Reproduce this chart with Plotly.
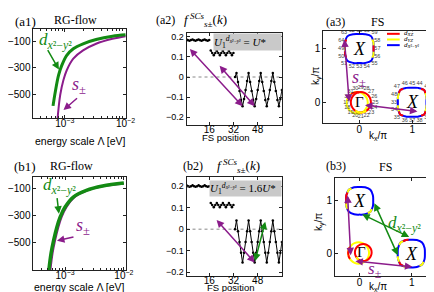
import numpy as np
import plotly.graph_objects as go

W, H = 434, 292
SERIF = "Liberation Serif"
SANS = "Liberation Sans"
GREEN = "#138a13"
PURPLE = "#8b1c8b"
ORB = {"r": "#ff0000", "y": "#ffff00", "b": "#0000ff"}

# ---------------- data: RG flow ----------------
lam_a1_d = [6.4e-4, 6.98e-4, 7.9e-4, 8.95e-4, 1.077e-3, 1.38e-3, 2.0e-3, 3.28e-3, 6.1e-3, 1.0e-2]
V_a1_d = [-587, -480, -356, -281, -207, -157, -120, -88, -63, -53]
lam_a1_s = [7.55e-4, 7.9e-4, 8.4e-4, 9.5e-4, 1.077e-3, 1.38e-3, 2.0e-3, 3.28e-3, 6.1e-3, 1.0e-2]
V_a1_s = [-700, -604, -505, -393, -319, -232, -170, -120, -83, -63]

lam_b1_d = [5.27e-4, 5.77e-4, 6.39e-4, 7.26e-4, 8.26e-4, 1.0e-3, 1.38e-3, 2.3e-3, 4.35e-3, 1.0e-2]
V_b1_d = [-710, -578, -480, -382, -308, -235, -161, -112, -80, -58]
lam_b1_s = [5.6e-4, 6.12e-4, 6.78e-4, 7.7e-4, 8.76e-4, 1.06e-3, 1.46e-3, 2.42e-3, 4.55e-3, 1.0e-2]
V_b1_s = [-710, -578, -480, -382, -308, -235, -161, -112, -80, -62]

# ---------------- data: gap function along FS ----------------
fs_pos = list(range(1, 65))
f_a2 = [0.187, 0.183, 0.181, 0.184, 0.187, 0.183, 0.181, 0.184,
        0.187, 0.183, 0.181, 0.184, 0.187, 0.183, 0.181, 0.184,
        0.132, 0.120, 0.108, 0.120, 0.132, 0.120, 0.108, 0.120,
        0.132, 0.120, 0.108, 0.120, 0.132, 0.120, 0.108, 0.120,
        0.000, 0.020, -0.025, -0.070, -0.115, -0.145, -0.110, -0.065,
        -0.020, 0.020, -0.025, -0.070, -0.115, -0.145, -0.110, -0.065,
        -0.020, 0.020, -0.025, -0.070, -0.115, -0.145, -0.110, -0.065,
        -0.020, 0.020, -0.025, -0.070, -0.115, -0.145, -0.110, -0.065]
f_b2 = [0.204, 0.200, 0.197, 0.200, 0.204, 0.200, 0.197, 0.200,
        0.204, 0.200, 0.197, 0.200, 0.204, 0.200, 0.197, 0.200,
        0.122, 0.112, 0.102, 0.112, 0.122, 0.112, 0.102, 0.112,
        0.122, 0.112, 0.102, 0.112, 0.122, 0.112, 0.102, 0.112,
        0.000, 0.040, -0.010, -0.060, -0.110, -0.155, -0.110, -0.060,
        -0.010, 0.040, -0.010, -0.060, -0.110, -0.155, -0.110, -0.060,
        -0.010, 0.040, -0.010, -0.060, -0.110, -0.155, -0.110, -0.060,
        -0.010, 0.040, -0.010, -0.060, -0.110, -0.155, -0.110, -0.060]
# FS pockets along the position axis (line is broken between pockets)
pocket_ranges = [(1, 16), (17, 32), (33, 64)]

# ---------------- data: Fermi surfaces (kx/pi, ky/pi), orbital per point ----------------
# (a3)
a3_Gy_kx = [-0.24, -0.225, -0.181, -0.117, -0.04, 0.037, 0.101, 0.145, 0.16, 0.145, 0.101, 0.037, -0.04, -0.117, -0.181, -0.225]
a3_Gy_ky = [-0.01, -0.087, -0.151, -0.195, -0.21, -0.195, -0.151, -0.087, -0.01, 0.067, 0.131, 0.175, 0.19, 0.175, 0.131, 0.067]
a3_Gy_orb = ["y", "y", "y", "y", "y", "y", "y", "y", "y", "y", "y", "y", "r", "r", "y", "y"]
a3_Gr_kx = [-0.16, -0.146, -0.104, -0.043, 0.03, 0.103, 0.164, 0.206, 0.22, 0.206, 0.164, 0.103, 0.03, -0.043, -0.104, -0.146]
a3_Gr_ky = [0.0, -0.073, -0.134, -0.176, -0.19, -0.176, -0.134, -0.073, 0.0, 0.073, 0.134, 0.176, 0.19, 0.176, 0.134, 0.073]
a3_Gr_orb = ["r", "r", "r", "y", "y", "y", "r", "r", "r", "r", "r", "r", "r", "r", "r", "r"]
a3_X1_kx = [0.73, 0.732, 0.773, 0.889, 1.0, 1.111, 1.227, 1.268, 1.27, 1.268, 1.227, 1.111, 1.0, 0.889, 0.773, 0.732]
a3_X1_ky = [0.0, -0.111, -0.227, -0.268, -0.27, -0.268, -0.227, -0.111, 0.0, 0.111, 0.227, 0.268, 0.27, 0.268, 0.227, 0.111]
a3_X1_orb = ["b", "y", "r", "b", "b", "b", "r", "y", "b", "y", "r", "b", "b", "b", "r", "y"]
a3_X2_kx = [-0.27, -0.268, -0.227, -0.111, 0.0, 0.111, 0.227, 0.268, 0.27, 0.268, 0.227, 0.111, 0.0, -0.111, -0.227, -0.268]
a3_X2_ky = [1.0, 0.889, 0.773, 0.732, 0.73, 0.732, 0.773, 0.889, 1.0, 1.111, 1.227, 1.268, 1.27, 1.268, 1.227, 1.111]
a3_X2_orb = ["y", "r", "b", "b", "b", "b", "b", "y", "r", "y", "b", "b", "b", "b", "b", "r"]
a3_Gr_pos = list(range(17, 33))
a3_X1_pos = list(range(33, 49))
a3_X2_pos = list(range(49, 65))

# (b3)
b3_Gy_kx = [-0.22, -0.205, -0.161, -0.097, -0.02, 0.057, 0.121, 0.165, 0.18, 0.165, 0.121, 0.057, -0.02, -0.097, -0.161, -0.205]
b3_Gy_ky = [0.01, -0.067, -0.131, -0.175, -0.19, -0.175, -0.131, -0.067, 0.01, 0.087, 0.151, 0.195, 0.21, 0.195, 0.151, 0.087]
b3_Gy_orb = ["r", "r", "y", "y", "y", "y", "y", "y", "y", "y", "y", "y", "y", "y", "y", "r"]
b3_Gr_kx = [-0.09, -0.078, -0.043, 0.009, 0.07, 0.131, 0.183, 0.218, 0.23, 0.218, 0.183, 0.131, 0.07, 0.009, -0.043, -0.078]
b3_Gr_ky = [0.02, -0.041, -0.093, -0.128, -0.14, -0.128, -0.093, -0.041, 0.02, 0.081, 0.133, 0.168, 0.18, 0.168, 0.133, 0.081]
b3_Gr_orb = ["r", "r", "y", "r", "r", "r", "r", "r", "r", "r", "r", "r", "r", "r", "r", "r"]
b3_X1_kx = [0.73, 0.736, 0.784, 0.885, 0.99, 1.095, 1.196, 1.244, 1.25, 1.244, 1.196, 1.095, 0.99, 0.885, 0.784, 0.736]
b3_X1_ky = [0.0, -0.105, -0.206, -0.254, -0.26, -0.254, -0.206, -0.105, 0.0, 0.105, 0.206, 0.254, 0.26, 0.254, 0.206, 0.105]
b3_X1_orb = ["b", "y", "r", "y", "b", "b", "y", "b", "b", "b", "b", "b", "b", "r", "y", "b"]
b3_X2_kx = [-0.26, -0.254, -0.206, -0.105, 0.0, 0.105, 0.206, 0.254, 0.26, 0.254, 0.206, 0.105, 0.0, -0.105, -0.206, -0.254]
b3_X2_ky = [0.99, 0.885, 0.784, 0.736, 0.73, 0.736, 0.784, 0.885, 0.99, 1.095, 1.196, 1.244, 1.25, 1.244, 1.196, 1.095]
b3_X2_orb = ["r", "y", "b", "b", "b", "b", "y", "b", "b", "b", "b", "b", "b", "b", "y", "r"]

fig = go.Figure()


def add_pocket(kx, ky, orb, xa, ya, width=2.0):
    base = max(set(orb), key=orb.count)
    fig.add_trace(go.Scatter(x=kx + [kx[0]], y=ky + [ky[0]], mode="lines",
                             line=dict(color=ORB[base], width=width, shape="spline"),
                             xaxis=xa, yaxis=ya, hoverinfo="skip", showlegend=False))
    n = len(kx)
    segs = {}
    for i, c in enumerate(orb):
        if c == base:
            continue
        p, q = (i - 1) % n, (i + 1) % n
        xs, ys = segs.setdefault(c, ([], []))
        xs += [(kx[p] + kx[i]) / 2, kx[i], (kx[q] + kx[i]) / 2, None]
        ys += [(ky[p] + ky[i]) / 2, ky[i], (ky[q] + ky[i]) / 2, None]
    for c, (xs, ys) in segs.items():
        fig.add_trace(go.Scatter(x=xs, y=ys, mode="lines",
                                 line=dict(color=ORB[c], width=width, shape="spline"),
                                 xaxis=xa, yaxis=ya, hoverinfo="skip", showlegend=False))


def add_labels(kx, ky, pos, xa, ya, f):
    cx, cy = np.mean(kx), np.mean(ky)
    lx = [cx + (x - cx) * f for x in kx]
    ly = [cy + (y - cy) * f for y in ky]
    fig.add_trace(go.Scatter(x=lx, y=ly, mode="text", text=[str(p) for p in pos],
                             textfont=dict(size=5.5, color="#444", family=SANS),
                             xaxis=xa, yaxis=ya, hoverinfo="skip", showlegend=False))


# ---- RG flow traces
fig.add_trace(go.Scatter(x=lam_a1_s, y=V_a1_s, mode="lines", line=dict(color=PURPLE, width=2, shape="spline"),
                         xaxis="x", yaxis="y", showlegend=False))
fig.add_trace(go.Scatter(x=lam_a1_d, y=V_a1_d, mode="lines", line=dict(color=GREEN, width=3, shape="spline"),
                         xaxis="x", yaxis="y", showlegend=False))
fig.add_trace(go.Scatter(x=lam_b1_s, y=V_b1_s, mode="lines", line=dict(color=PURPLE, width=2, shape="spline"),
                         xaxis="x4", yaxis="y4", showlegend=False))
fig.add_trace(go.Scatter(x=lam_b1_d, y=V_b1_d, mode="lines", line=dict(color=GREEN, width=3.5, shape="spline"),
                         xaxis="x4", yaxis="y4", showlegend=False))

# ---- gap function traces (one line piece per FS pocket)
for f_vals, xa, ya in [(f_a2, "x2", "y2"), (f_b2, "x5", "y5")]:
    for lo, hi in pocket_ranges:
        fig.add_trace(go.Scatter(x=fs_pos[lo - 1:hi], y=f_vals[lo - 1:hi], mode="lines+markers",
                                 line=dict(color="black", width=1), marker=dict(size=2.5, color="black"),
                                 xaxis=xa, yaxis=ya, showlegend=False))

# ---- Fermi surfaces
add_pocket(a3_Gy_kx, a3_Gy_ky, a3_Gy_orb, "x3", "y3")
add_pocket(a3_Gr_kx, a3_Gr_ky, a3_Gr_orb, "x3", "y3")
add_pocket(a3_X1_kx, a3_X1_ky, a3_X1_orb, "x3", "y3")
add_pocket(a3_X2_kx, a3_X2_ky, a3_X2_orb, "x3", "y3")
add_labels(a3_Gr_kx, a3_Gr_ky, a3_Gr_pos, "x3", "y3", 1.45)
add_labels(a3_X1_kx, a3_X1_ky, a3_X1_pos, "x3", "y3", 1.27)
add_labels(a3_X2_kx, a3_X2_ky, a3_X2_pos, "x3", "y3", 1.27)

add_pocket(b3_Gy_kx, b3_Gy_ky, b3_Gy_orb, "x6", "y6")
add_pocket(b3_Gr_kx, b3_Gr_ky, b3_Gr_orb, "x6", "y6")
add_pocket(b3_X1_kx, b3_X1_ky, b3_X1_orb, "x6", "y6")
add_pocket(b3_X2_kx, b3_X2_ky, b3_X2_orb, "x6", "y6")

# ---------------- axes ----------------
def ax(**kw):
    d = dict(showline=True, linecolor="#222", linewidth=1, mirror="ticks", ticks="inside",
             ticklen=3, tickwidth=1, tickcolor="#222", showgrid=False, zeroline=False,
             tickfont=dict(family=SANS, size=10, color="black"))
    d.update(kw)
    return d


def dx(a, b):
    return [a / W, b / W]


def dy(top, bottom):
    return [1 - bottom / H, 1 - top / H]


minor_log = [4e-4, 5e-4, 6e-4, 7e-4, 8e-4, 9e-4, 2e-3, 3e-3, 4e-3, 5e-3, 6e-3, 7e-3, 8e-3, 9e-3]
logticks = dict(tickvals=[1e-3, 1e-2], ticktext=["10<sup>−3</sup>", "10<sup>−2</sup>"],
                ticklabelstandoff=-4,
                minor=dict(ticks="inside", ticklen=2, tickvals=minor_log, tickcolor="#222"))
fticks = dict(tickvals=[0.2, 0.1, 0, -0.1, -0.2], ticktext=["0.2", "0.1", "0", "−0.1", "−0.2"],
              tickfont=dict(family=SANS, size=9, color="black"))
posticks = dict(tickvals=[16, 32, 48], ticklabelstandoff=-5)
kticks = dict(tickvals=[0, 1])

fig.update_layout(
    xaxis=ax(domain=dx(26, 121), type="log", range=[-3.516, -1.984], anchor="y", **logticks),
    yaxis=ax(domain=dy(20, 110), range=[-680, -8], tickvals=[-100, -300, -500], anchor="x"),
    xaxis2=ax(domain=dx(182.3, 279.7), range=[1, 64], anchor="y2", **posticks),
    yaxis2=ax(domain=dy(24, 117), range=[-0.24, 0.22], anchor="x2", **fticks),
    xaxis3=ax(domain=dx(322, 430), range=[-0.68, 1.32], anchor="y3", ticklabelstandoff=-3, **kticks),
    yaxis3=ax(domain=dy(22, 115), range=[-0.39, 1.33], anchor="x3", **kticks),
    xaxis4=ax(domain=dx(26, 120), type="log", range=[-3.538, -1.972], anchor="y4", **logticks),
    yaxis4=ax(domain=dy(169.3, 262.7), range=[-700, -14], tickvals=[-100, -300, -500], anchor="x4"),
    xaxis5=ax(domain=dx(182.3, 279.7), range=[1, 64], anchor="y5", **posticks),
    yaxis5=ax(domain=dy(168.7, 269.3), range=[-0.22, 0.245], anchor="x5", **fticks),
    xaxis6=ax(domain=dx(334, 430), range=[-0.47, 1.33], anchor="y6", ticklabelstandoff=-3, **kticks),
    yaxis6=ax(domain=dy(170, 269.3), range=[-0.43, 1.42], anchor="x6", **kticks),
)

# ---------------- annotations ----------------
anns = []
shapes = []


def txt(text, px, py, size, color="black", family=SERIF, **kw):
    d = dict(text=text, x=px / W, y=1 - py / H, xref="paper", yref="paper", showarrow=False,
             font=dict(family=family, size=size, color=color), xanchor="center", yanchor="middle")
    d.update(kw)
    anns.append(d)


def dtxt(text, x, y, xa, ya, size, color="black", family=SERIF):
    anns.append(dict(text=text, x=x, y=y, xref=xa, yref=ya, showarrow=False,
                     font=dict(family=family, size=size, color=color), xanchor="center", yanchor="middle"))


def arrow(x, y, axv, ayv, xa, ya, color, double=False, pixel=False):
    d = dict(text="", x=x, y=y, xref=xa, yref=ya, showarrow=True, arrowhead=2, arrowsize=1,
             arrowwidth=1.5, arrowcolor=color, standoff=0, startstandoff=0, ax=axv, ay=ayv)
    if not pixel:
        d.update(axref=xa, ayref=ya)
    if double:
        d.update(arrowside="end+start", startarrowhead=2, startarrowsize=1)
    anns.append(d)


# titles
txt("(a1)", 18, 12.5, 13)
txt("RG-flow", 69, 11.5, 12)
txt("(a2)", 161, 11.5, 12)
FT = "<i>f</i><sup> <i>SCs</i></sup><sub><i>s</i>±</sub>(<i>k</i>)"
txt(FT, 202, 11, 13)
txt("(a3)", 334, 13, 12)
txt("FS", 377, 13, 12)
txt("(b1)", 17.5, 158.5, 13)
txt("RG-flow", 65, 158, 12)
txt("(b2)", 189, 158.5, 12)
txt(FT, 235, 158, 13)
txt("(b3)", 335, 158, 12)
txt("FS", 386, 159, 12)

# axis titles
txt("energy scale Λ [eV]", 74, 132.5, 10.5, family=SANS)
txt("energy scale Λ [eV]", 73, 280, 10.5, family=SANS)
txt("FS position", 223, 129.5, 9.5, family=SANS)
txt("FS position", 228, 280.3, 9.5, family=SANS)
txt("k<sub>x</sub>/π", 378, 128, 10, family=SANS)
txt("k<sub>x</sub>/π", 378, 280, 10, family=SANS)
txt("k<sub>y</sub>/π", 315, 67, 10, family=SANS, textangle=-90)
txt("k<sub>y</sub>/π", 318, 214, 10, family=SANS, textangle=-90)

DL = "<i>d</i><sub><i>x</i>²−<i>y</i>²</sub>"
SL = "<i>s</i><sub>±</sub>"
# (a1) labels + arrows
txt(DL, 49, 32, 17, color=GREEN)
txt(SL, 72.5, 77, 18, color=PURPLE)
arrow(-3.097, -314, -12, -21, "x", "y", GREEN, pixel=True)
arrow(-3.021, -618, 15, -13, "x", "y", PURPLE, pixel=True)
# (b1)
txt(DL, 52.5, 178, 17, color=GREEN)
txt(SL, 76.5, 219, 18, color=PURPLE)
arrow(-3.105, -284, -2, -17, "x4", "y4", GREEN, pixel=True)
arrow(-3.138, -484, 18, -4, "x4", "y4", PURPLE, pixel=True)

# (a2), (b2) gray boxes
UB = "<i>U</i><sub>1</sub><sup><i>d</i><sub><i>x</i>²−<i>y</i>²</sub></sup> = "
anns.append(dict(text=UB + "<i>U</i>*", x=1, y=1, xref="x2 domain", yref="y2 domain", xanchor="right",
                 yanchor="top", showarrow=False, bgcolor="#c9c9c9", width=67, height=16, align="left",
                 borderpad=0, font=dict(family=SERIF, size=11, color="black")))
anns.append(dict(text=UB + "1.6<i>U</i>*", x=1, y=1, xref="x5 domain", yref="y5 domain", xanchor="right",
                 yanchor="top", yshift=-3, showarrow=False, bgcolor="#c9c9c9", width=71, height=15,
                 align="left", borderpad=0, font=dict(family=SERIF, size=11, color="black")))
for xa, ya in [("x2", "y2"), ("x5", "y5")]:
    shapes.append(dict(type="line", xref=xa + " domain", yref=ya, x0=0, x1=1, y0=0, y1=0,
                       line=dict(color="#888", width=1, dash="dot"), layer="below"))

# (a2) arrows
arrow(38, -0.145, 2.3, 0.147, "x2", "y2", PURPLE, double=True)
arrow(46, -0.145, 22, 0.063, "x2", "y2", PURPLE, double=True)
# (b2) arrows
arrow(46, -0.155, 20, 0.05, "x5", "y5", PURPLE, double=True)
arrow(53, 0.035, 46, -0.155, "x5", "y5", GREEN, double=True)

# (a3) symbols, arrows, legend
dtxt("Γ", np.mean(a3_Gr_kx) - 0.03, np.mean(a3_Gr_ky) + 0.01, "x3", "y3", 15)
dtxt("<i>X</i>", np.mean(a3_X1_kx), np.mean(a3_X1_ky), "x3", "y3", 18)
dtxt("<i>X</i>", np.mean(a3_X2_kx), np.mean(a3_X2_ky), "x3", "y3", 18)
dtxt(SL, 0.0, 0.44, "x3", "y3", 18, color=PURPLE)
arrow(-0.28, 1.17, -0.19, -0.02, "x3", "y3", PURPLE, double=True)
arrow(1.1, -0.17, 0.08, -0.05, "x3", "y3", PURPLE, double=True)
leg = [("r", "<i>d</i><sub><i>XZ</i></sub>", 25), ("y", "<i>d</i><sub><i>YZ</i></sub>", 30.7),
       ("b", "<i>d</i><sub><i>X</i>²−<i>Y</i>²</sub>", 36.4)]
shapes.append(dict(type="rect", xref="paper", yref="paper", x0=385 / W, x1=429.5 / W,
                   y0=1 - 40 / H, y1=1 - 22.5 / H, fillcolor="white", line=dict(width=0)))
for c, t, py in leg:
    shapes.append(dict(type="line", xref="paper", yref="paper", x0=387 / W, x1=400 / W,
                       y0=1 - py / H, y1=1 - py / H, line=dict(color=ORB[c], width=2)))
    txt(t, 402, py - 0.5, 7, xanchor="left")

# (b3) symbols, arrows
dtxt("Γ", np.mean(b3_Gr_kx) - 0.04, np.mean(b3_Gr_ky), "x6", "y6", 15)
dtxt("<i>X</i>", np.mean(b3_X1_kx), np.mean(b3_X1_ky), "x6", "y6", 18)
dtxt("<i>X</i>", np.mean(b3_X2_kx), np.mean(b3_X2_ky), "x6", "y6", 18)
arrow(-0.23, 1.09, -0.17, -0.06, "x6", "y6", PURPLE, double=True)
arrow(1.01, -0.25, -0.11, -0.14, "x6", "y6", PURPLE, double=True)
arrow(0.95, 0.31, 0.02, 0.75, "x6", "y6", GREEN, double=True)
arrow(0.73, -0.03, 0.27, 0.97, "x6", "y6", GREEN, double=True)
dtxt(DL, 0.86, 0.56, "x6", "y6", 17, color=GREEN)
dtxt(SL, 0.3, -0.31, "x6", "y6", 17, color=PURPLE)

fig.update_layout(width=W, height=H, margin=dict(l=0, r=0, t=0, b=0),
                  paper_bgcolor="white", plot_bgcolor="white", showlegend=False,
                  annotations=anns, shapes=shapes)

fig.write_html("out.html")
